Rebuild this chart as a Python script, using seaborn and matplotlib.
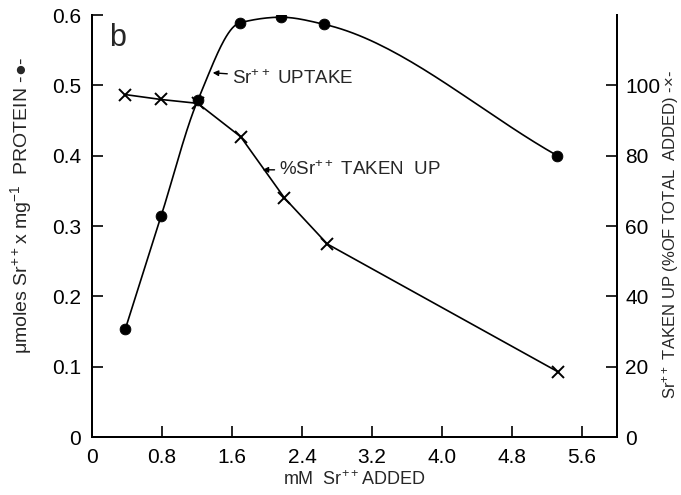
import numpy as np
import matplotlib
matplotlib.use('Agg')
import matplotlib.pyplot as plt
import seaborn as sns

# mM Sr++ added / uptake (umoles Sr++ per mg protein)
sr_added = [0.38, 0.79, 1.21, 1.69, 2.16, 2.65, 5.32]
sr_uptake = [0.153, 0.314, 0.479, 0.589, 0.597, 0.587, 0.400]

# mM Sr++ added / % of total added that was taken up
pct_added = [0.38, 0.79, 1.21, 1.70, 2.20, 2.69, 5.33]
pct_taken = [97.4, 96.0, 94.9, 85.4, 68.0, 54.9, 18.5]

x_ticks = [0, 0.8, 1.6, 2.4, 3.2, 4.0, 4.8, 5.6]
x_ticklabels = ['0', '0.8', '1.6', '2.4', '3.2', '4.0', '4.8', '5.6']
left_ticks = [0, 0.1, 0.2, 0.3, 0.4, 0.5, 0.6]
left_ticklabels = ['0', '0.1', '0.2', '0.3', '0.4', '0.5', '0.6']
right_ticks = [0, 20, 40, 60, 80, 100]
right_ticklabels = ['0', '20', '40', '60', '80', '100']


# monotone cubic (Fritsch-Carlson) path through the points, just to draw the hand-drawn curve
def smooth_path(xs, ys, steps=40):
    x = np.asarray(xs, float)
    y = np.asarray(ys, float)
    h = np.diff(x)
    d = np.diff(y) / h
    m = np.zeros_like(y)
    m[0], m[-1] = d[0], d[-1]
    for i in range(1, len(x) - 1):
        if d[i - 1] * d[i] > 0:
            w1 = 2 * h[i] + h[i - 1]
            w2 = h[i] + 2 * h[i - 1]
            m[i] = (w1 + w2) / (w1 / d[i - 1] + w2 / d[i])
    px, py = [], []
    for i in range(len(x) - 1):
        t = np.linspace(0, 1, steps, endpoint=False)
        h00 = 2 * t**3 - 3 * t**2 + 1
        h10 = t**3 - 2 * t**2 + t
        h01 = -2 * t**3 + 3 * t**2
        h11 = t**3 - t**2
        px.extend(x[i] + t * h[i])
        py.extend(h00 * y[i] + h10 * h[i] * m[i] + h01 * y[i + 1] + h11 * h[i] * m[i + 1])
    px.append(x[-1])
    py.append(y[-1])
    return np.array(px), np.array(py)


sns.set_style('ticks')
plt.rcParams['font.family'] = ['Liberation Sans', 'DejaVu Sans']
plt.rcParams['mathtext.default'] = 'regular'

fig = plt.figure(figsize=(6.81, 4.95), dpi=100)
ax = fig.add_axes([0.135, 0.117, 0.771, 0.8525])
ax2 = ax.twinx()

# uptake curve (smooth) with filled circles
cx, cy = smooth_path(sr_added, sr_uptake)
ax.plot(cx, cy, color='black', lw=1.2, zorder=2)
sns.scatterplot(x=sr_added, y=sr_uptake, color='black', s=60, edgecolor='black', ax=ax, zorder=3)

# percent taken up, straight segments with crosses
sns.lineplot(x=pct_added, y=pct_taken, color='black', lw=1.2, marker='x', markersize=8,
             markeredgewidth=1.4, markeredgecolor='black', ax=ax2, zorder=3)

ax.set_xlim(0, 6.0)
ax.set_ylim(0, 0.6)
ax2.set_ylim(0, 120)

ax.set_xticks(x_ticks)
ax.set_xticklabels(x_ticklabels)
ax.set_yticks(left_ticks)
ax.set_yticklabels(left_ticklabels)
ax2.set_yticks(right_ticks)
ax2.set_yticklabels(right_ticklabels)

ax.tick_params(axis='both', direction='in', length=8, width=1.2, labelsize=15, pad=8, colors='black')
ax2.tick_params(axis='y', direction='in', length=8, width=1.2, labelsize=15, pad=6, colors='black')

for a in (ax, ax2):
    a.spines['top'].set_visible(False)
    for s in ('left', 'right', 'bottom'):
        a.spines[s].set_linewidth(1.4)
        a.spines[s].set_color('black')

ax.set_xlabel('mM  Sr$^{++}$ADDED', fontsize=13)
ax.xaxis.set_label_coords(0.5, -0.078)
ax.set_ylabel('$\\mu$moles Sr$^{++}$x mg$^{-1}$  PROTEIN -\u25cf-', fontsize=14)
ax.yaxis.set_label_coords(-0.11, 0.55)
ax2.set_ylabel('Sr$^{++}$ TAKEN UP (%OF TOTAL  ADDED) -\u00d7-', fontsize=12)
ax2.yaxis.set_label_coords(1.082, 0.48)

ax.text(0.2, 0.567, 'b', fontsize=22, ha='left', va='center')

ax.annotate('Sr$^{++}$ UPTAKE', xy=(1.38, 0.518), xytext=(1.6, 0.51), fontsize=13.5,
            va='center', ha='left',
            arrowprops=dict(arrowstyle='-|>', color='black', lw=1.0, mutation_scale=8,
                            shrinkA=1, shrinkB=0))
ax.annotate('%Sr$^{++}$ TAKEN  UP', xy=(1.95, 0.38), xytext=(2.14, 0.38), fontsize=13.5,
            va='center', ha='left',
            arrowprops=dict(arrowstyle='-|>', color='black', lw=1.0, mutation_scale=8,
                            shrinkA=1, shrinkB=0))

fig.savefig('out.png', dpi=100)
